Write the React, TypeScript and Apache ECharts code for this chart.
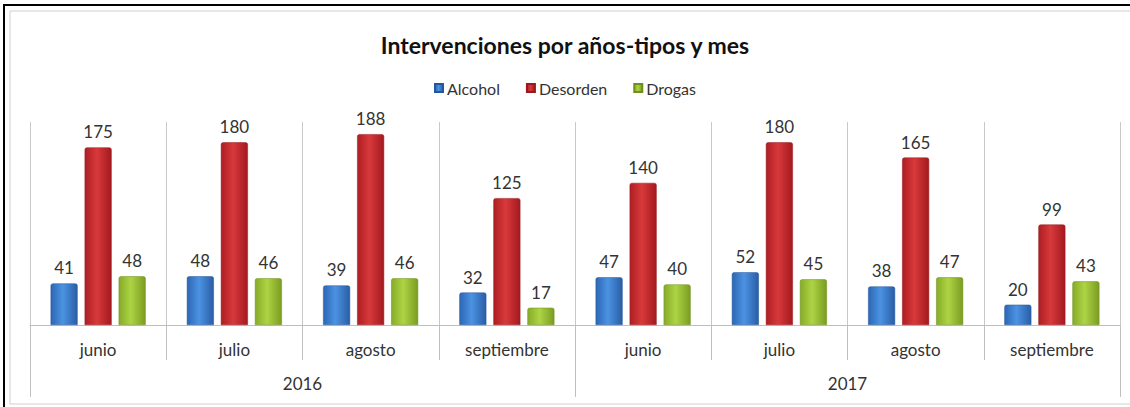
import React, { useEffect, useRef } from "react";
import * as echarts from "echarts";

const months = ["junio", "julio", "agosto", "septiembre", "junio", "julio", "agosto", "septiembre"];
const years = ["2016", "2017"];
const alcohol = [41, 48, 39, 32, 47, 52, 38, 20];
const desorden = [175, 180, 188, 125, 140, 180, 165, 99];
const drogas = [48, 46, 46, 17, 40, 45, 47, 43];

const FONT = "Lato";

function grad(a: string, b: string, c: string) {
  return new echarts.graphic.LinearGradient(0, 0, 1, 0, [
    { offset: 0, color: a },
    { offset: 0.45, color: b },
    { offset: 1, color: c },
  ]);
}

export default function App() {
  const ref = useRef<HTMLDivElement>(null);
  useEffect(() => {
    const chart = echarts.init(ref.current!, undefined, { renderer: "svg" });
    const label = {
      show: true,
      position: "top" as const,
      distance: 7,
      color: "#333",
      fontFamily: FONT,
      fontSize: 17,
    };
    const mk = (name: string, data: number[], c: any, border: string) => ({
      name,
      type: "bar" as const,
      data,
      barWidth: 27,
      barGap: "26%",
      itemStyle: { color: c, borderColor: border, borderWidth: 0.5, borderRadius: [2, 2, 0, 0] },
      label,
    });
    chart.setOption({
      animation: false,
      backgroundColor: "#fff",
      title: {
        text: "Intervenciones por años-tipos y mes",
        left: "center",
        top: 28,
        textStyle: { fontFamily: FONT, fontSize: 23, fontWeight: "bold", color: "#111" },
      },
      legend: {
        top: 75,
        left: "center",
        itemWidth: 8,
        itemHeight: 8,
        itemGap: 26,
        icon: "rect",
        textStyle: { fontFamily: FONT, fontSize: 16, color: "#333", padding: [0, 0, 0, -1] },
        data: ["Alcohol", "Desorden", "Drogas"],
      },
      color: ["#3a7cc8", "#c3282d", "#9cc233"],
      grid: { left: 30, right: 10, top: 122, bottom: 82, containLabel: false },
      xAxis: [
        {
          type: "category",
          data: months,
          position: "bottom",
          axisLine: { show: true, lineStyle: { color: "#bfbfbf", width: 1 } },
          axisTick: { show: true, length: 35, interval: 0, lineStyle: { color: "#bfbfbf" } },
          splitLine: { show: true, interval: 0, lineStyle: { color: "#c8c8c8", width: 1 } },
          axisLabel: { interval: 0, margin: 16, color: "#333", fontFamily: FONT, fontSize: 17 },
        },
        {
          type: "category",
          data: years,
          position: "bottom",
          axisLine: { show: false },
          axisTick: { show: true, length: 72, interval: 0, lineStyle: { color: "#bfbfbf" } },
          splitLine: { show: false },
          axisLabel: { interval: 0, margin: 50, color: "#333", fontFamily: FONT, fontSize: 17 },
        },
      ],
      yAxis: { type: "value", min: 0, max: 200, show: false, splitLine: { show: false } },
      series: [
        mk("Alcohol", alcohol, grad("#2c66b3", "#4b93e2", "#2a5da6"), "#24569b"),
        mk("Desorden", desorden, grad("#ad1e23", "#d8393b", "#a31a1f"), "#951a1e"),
        mk("Drogas", drogas, grad("#86ab28", "#add444", "#7a9c22"), "#6f8e1e"),
      ],
      graphic: [
        { type: "rect", shape: { x: 3, y: 4, width: 1130, height: 2 }, style: { fill: "#000" } },
        { type: "rect", shape: { x: 3, y: 4, width: 2, height: 403 }, style: { fill: "#000" } },
        { type: "line", shape: { x1: 10, y1: 11, x2: 1130, y2: 11 }, style: { stroke: "#cfcfcf", lineWidth: 1 } },
        { type: "line", shape: { x1: 10, y1: 11, x2: 10, y2: 404 }, style: { stroke: "#cfcfcf", lineWidth: 1 } },
        { type: "line", shape: { x1: 10, y1: 404, x2: 1130, y2: 404 }, style: { stroke: "#cfcfcf", lineWidth: 1 } },
      ],
    });
    return () => chart.dispose();
  }, []);
  return (
    <div
      ref={ref}
      style={{ position: "fixed", left: 0, top: 0, width: 1130, height: 407, background: "#fff" }}
    />
  );
}
